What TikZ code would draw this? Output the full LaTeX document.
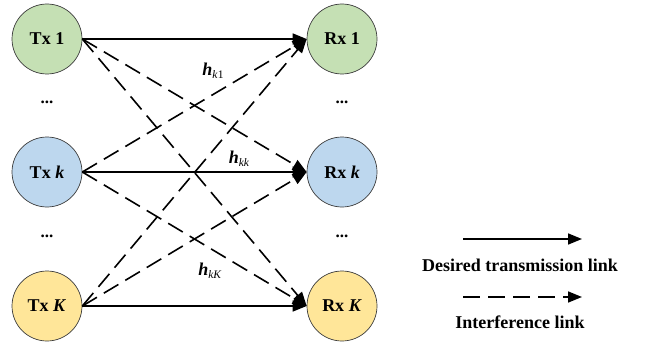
\documentclass[tikz,border=0pt]{standalone}
\usepackage{fontspec}
\setmainfont{Liberation Serif}
\usetikzlibrary{arrows.meta}

\definecolor{linkGreen}{RGB}{197,224,180}
\definecolor{linkBlue}{RGB}{189,215,238}
\definecolor{linkYellow}{RGB}{255,230,153}
\definecolor{linkBorder}{RGB}{60,60,60}

\newcommand{\chan}[1]{\textbf{\textit{h}}\raisebox{-.35ex}{\fontsize{11.5}{12}\selectfont #1}}

\begin{document}
\begin{tikzpicture}[x=1pt,y=-1pt,
      user/.style={circle, draw=linkBorder, line width=.7pt,
        minimum size=70pt, inner sep=0pt,
        font=\fontsize{18}{20}\selectfont\bfseries},
      desired/.style={line width=1.6pt,
        -{Triangle[length=14pt,width=11pt]}},
      interf/.style={desired, dash pattern=on 17pt off 8pt},
      dots/.style={font=\fontsize{17}{17}\selectfont\bfseries},
      gain/.style={font=\fontsize{18}{20}\selectfont},
      legend/.style={font=\fontsize{18}{20}\selectfont\bfseries}]
      \useasboundingbox (0,0) rectangle (645,345);

      % transmitters and receivers
      \node[user, fill=linkGreen] (tx1) at (47,39) {Tx 1};
      \node[user, fill=linkBlue] (txk) at (47,172) {Tx \textit{k}};
      \node[user, fill=linkYellow] (txK) at (47,306) {Tx \textit{K}};
      \node[user, fill=linkGreen] (rx1) at (342,39) {Rx 1};
      \node[user, fill=linkBlue] (rxk) at (342,172) {Rx \textit{k}};
      \node[user, fill=linkYellow] (rxK) at (342,306) {Rx \textit{K}};

      \node[dots] (dtx1) at (47,102) {...};
      \node[dots] (dtx2) at (47,236) {...};
      \node[dots] (drx1) at (342,102) {...};
      \node[dots] (drx2) at (342,236) {...};

      % links
      \foreach \t in {1,k,K}{
        \draw[desired] (tx\t.east) -- (rx\t.west);}
      \foreach \t/\r in {1/k,1/K,k/1,k/K,K/1,K/k}{
        \draw[interf] (tx\t.east) -- (rx\r.west);}

      \node[gain] (h1) at (213,71) {\chan{\textit{k}1}};
      \node[gain] (hk) at (239,159) {\chan{\textit{kk}}};
      \node[gain] (hK) at (210,271) {\chan{\textit{kK}}};

      % legend
      \coordinate (ds) at (463,239);
      \coordinate (de) at (582,239);
      \coordinate (is) at (463,297);
      \coordinate (ie) at (582,297);
      \draw[desired] (ds) -- (de);
      \node[legend] (dtext) at (520,265) {Desired transmission link};
      \draw[interf] (is) -- (ie);
      \node[legend] (itext) at (520,322) {Interference link};
    \end{tikzpicture}
\end{document}
